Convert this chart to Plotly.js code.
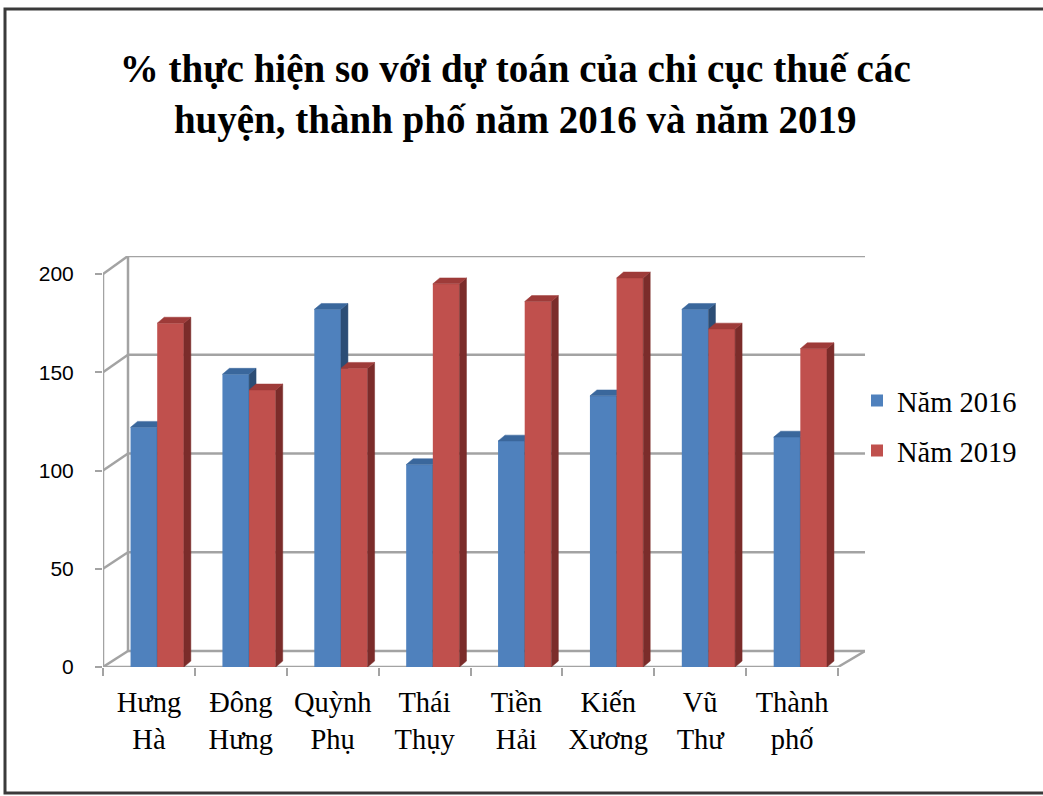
<!DOCTYPE html>
<html>
<head>
<meta charset="utf-8">
<script src="https://cdn.plot.ly/plotly-3.0.1.min.js"></script>
<style>html,body{margin:0;padding:0;background:#fff;}#chart{width:1043px;height:796px;}</style>
</head>
<body>
<div id="chart"></div>
<script>
// ---- data ----
const categories = ["Hưng<br>Hà", "Đông<br>Hưng", "Quỳnh<br>Phụ", "Thái<br>Thụy", "Tiền<br>Hải", "Kiến<br>Xương", "Vũ<br>Thư", "Thành<br>phố"];
const seriesNames = ["Năm 2016", "Năm 2019"];
const values2016 = [122, 149, 182, 103, 115, 138, 182, 117];
const values2019 = [175, 141, 152, 195, 186, 198, 172, 162];
const yTicks = [0, 50, 100, 150, 200];

// ---- styling / geometry helpers ----
const W = 1043, H = 796;
const pxL = 103, pxR = 865, pxTop = 256, pxBot = 667;
const xMin = -0.5, xFrontMax = 7.5;
const xMax = xMin + (pxR - pxL) / ((838 - pxL) / (xFrontMax - xMin));
const yScale = (667 - 274) / 200;          // px per unit at front
const yMax = (pxBot - pxTop) / yScale;
const backPxPerUnit = (651 - 256) / 200;
function back(v) { return (pxBot - (651 - backPxPerUnit * v)) / yScale; }
const wallX = xMin + (128 - pxL) / ((838 - pxL) / (xFrontMax - xMin));
const xIdx = categories.map((c, i) => i);

const barW = 0.29, offBlue = -0.2, offRed = 0.09;
const dX = 0.076, dY = 3;

function faces(vals, off) {
  const side = {x: [], y: []}, top = {x: [], y: []};
  vals.forEach((v, i) => {
    const L = i + off, R = L + barW;
    side.x.push(R, R, R + dX, R + dX, R, null);
    side.y.push(0, v, v + dY, dY, 0, null);
    top.x.push(L, R, R + dX, L + dX, L, null);
    top.y.push(v, v, v + dY, v + dY, v, null);
  });
  return {side, top};
}

const blueF = faces(values2016, offBlue);
const redF = faces(values2019, offRed);
const BLUE = "#4F81BD", BLUE_TOP = "#3A679C", BLUE_SIDE = "#2C4D75";
const RED = "#C0504D", RED_TOP = "#9E3B39", RED_SIDE = "#7B2C2A";

function poly(f, color, yaxis) {
  return {type: "scatter", mode: "lines", x: f.x, y: f.y, fill: "toself", fillcolor: color,
          line: {width: 0.5, color: color}, showlegend: false, hoverinfo: "skip", yaxis: yaxis};
}

const traces = [
  {type: "bar", name: seriesNames[0], x: xIdx, y: values2016, width: barW, offset: offBlue,
   marker: {color: BLUE, line: {width: 0}}, legendgroup: "a"},
  poly(blueF.side, BLUE_SIDE, "y"),
  poly(blueF.top, BLUE_TOP, "y"),
  {type: "bar", name: seriesNames[1], x: xIdx, y: values2019, width: barW, offset: offRed,
   marker: {color: RED, line: {width: 0}}, yaxis: "y2", legendgroup: "b"},
  poly(redF.side, RED_SIDE, "y2"),
  poly(redF.top, RED_TOP, "y2")
];

const GRID = "#A3A3A3";
const shapes = [];
yTicks.forEach(v => {
  shapes.push({type: "line", xref: "x", yref: "y", x0: wallX, x1: xMax, y0: back(v), y1: back(v),
               line: {color: GRID, width: 2.5}, layer: "below"});
  shapes.push({type: "line", xref: "x", yref: "y", x0: xMin, x1: wallX, y0: v, y1: back(v),
               line: {color: GRID, width: 2.5}, layer: "below"});
});
shapes.push({type: "line", xref: "x", yref: "y", x0: wallX, x1: wallX, y0: back(0), y1: back(200),
             line: {color: GRID, width: 2.5}, layer: "below"});
shapes.push({type: "line", xref: "x", yref: "y", x0: xMin, x1: xMin, y0: 0, y1: 200,
             line: {color: GRID, width: 2.5}, layer: "below"});
shapes.push({type: "line", xref: "x", yref: "y", x0: xMin, x1: xFrontMax, y0: 0, y1: 0,
             line: {color: GRID, width: 2.5}, layer: "below"});
shapes.push({type: "line", xref: "x", yref: "y", x0: xFrontMax, x1: xMax, y0: 0, y1: back(0),
             line: {color: GRID, width: 2.5}, layer: "below"});
// outer frame
shapes.push({type: "rect", xref: "paper", yref: "paper", x0: 5 / W, x1: 1.02, y0: 1 - 793 / H, y1: 1 - 9 / H,
             line: {color: "#3a3a3a", width: 3}, layer: "below"});

const minorTicks = [];
for (let k = 0; k <= categories.length; k++) minorTicks.push(k - 0.5);

const layout = {
  width: W, height: H,
  margin: {l: 0, r: 0, t: 0, b: 0},
  paper_bgcolor: "#fff", plot_bgcolor: "rgba(0,0,0,0)",
  barmode: "overlay",
  showlegend: true,
  title: {
    text: "% thực hiện so với dự toán của chi cục thuế các<br>huyện, thành phố năm 2016 và năm 2019",
    font: {family: "Liberation Serif, serif", size: 39, color: "#000", weight: "bold"},
    x: 0.494, xanchor: "center", xref: "paper",
    y: 1 - 82 / H, yanchor: "top", yref: "container"
  },
  xaxis: {
    domain: [pxL / W, pxR / W],
    range: [xMin, xMax],
    tickmode: "array", tickvals: xIdx, ticktext: categories,
    ticks: "outside", ticklen: 0, tickcolor: GRID,
    minor: {tickmode: "array", tickvals: minorTicks, ticks: "outside", ticklen: 8, tickcolor: GRID, tickwidth: 2, showgrid: false},
    showgrid: false, zeroline: false, showline: false,
    tickfont: {family: "Liberation Serif, serif", size: 28.5, color: "#000"},
    ticklabelstandoff: 10,
    fixedrange: true
  },
  yaxis: {
    domain: [1 - pxBot / H, 1 - pxTop / H],
    range: [0, yMax],
    tickmode: "array", tickvals: yTicks, ticktext: yTicks.map(String),
    ticks: "outside", ticklen: 7, tickwidth: 2, tickcolor: GRID,
    showgrid: false, zeroline: false, showline: false,
    tickfont: {family: "Liberation Sans, Arial, sans-serif", size: 21, color: "#000"},
    ticklabelstandoff: 17,
    fixedrange: true
  },
  yaxis2: {
    overlaying: "y", range: [0, yMax], visible: false, fixedrange: true
  },
  legend: {
    x: 857 / W, xanchor: "left", y: 1 - 426 / H, yanchor: "middle",
    font: {family: "Liberation Serif, serif", size: 28.5, color: "#000"},
    bgcolor: "rgba(0,0,0,0)", tracegroupgap: 10, itemwidth: 30
  },
  shapes: shapes
};

Plotly.newPlot("chart", traces, layout, {displayModeBar: false, staticPlot: true});
</script>
</body>
</html>
